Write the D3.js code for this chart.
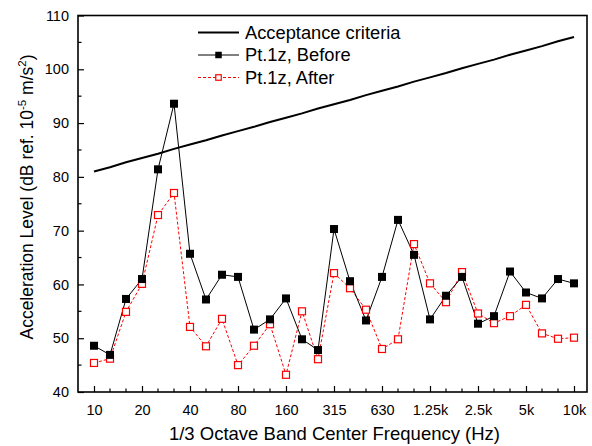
<!DOCTYPE html>
<html>
<head>
<meta charset="utf-8">
<script src="https://cdn.jsdelivr.net/npm/d3@7"></script>
<style>
  html, body { margin: 0; padding: 0; background: #fff; }
  svg { display: block; font-family: "Liberation Sans", Arial, sans-serif; }
</style>
</head>
<body>
<svg id="chart" width="592" height="446"></svg>
<script>
// 1/3 octave band centre frequencies
const bands = ["10","12.5","16","20","25","31.5","40","50","63","80","100","125","160","200","250",
  "315","400","500","630","800","1k","1.25k","1.6k","2k","2.5k","3.15k","4k","5k","6.3k","8k","10k"];
const tickBands = ["10","20","40","80","160","315","630","1.25k","2.5k","5k","10k"];

// Acceleration levels, dB ref. 1e-5 m/s^2
const criteria = [81.0,81.8,82.7,83.5,84.3,85.2,86.0,86.8,87.7,88.5,89.3,90.2,91.0,91.8,92.7,
  93.5,94.3,95.2,96.0,96.8,97.7,98.5,99.3,100.2,101.0,101.8,102.7,103.5,104.3,105.2,106.0];
const before = [48.6,46.9,57.3,61.0,81.4,93.6,65.7,57.2,61.8,61.4,51.6,53.5,57.4,49.8,47.8,
  70.3,60.6,53.3,61.4,72.0,65.5,53.5,57.9,61.4,52.7,54.1,62.4,58.5,57.4,61.0,60.2];
const after = [45.4,46.2,54.9,60.1,72.9,77.0,52.1,48.5,53.6,45.0,48.6,52.6,43.2,55.0,46.1,
  62.1,59.3,55.3,48.0,49.8,67.5,60.2,56.7,62.3,54.6,52.8,54.1,56.2,50.9,49.9,50.1];
const yTicks = [40,50,60,70,80,90,100,110];
const yMinor = [45,55,65,75,85,95,105];

const svg = d3.select("#chart");
const m = { left: 78, right: 587, top: 15.5, bottom: 392 };

const x = d3.scalePoint().domain(bands).range([94, 574]);
const y = d3.scaleLinear().domain([40, 110]).range([m.bottom, m.top]);

const g = svg.append("g");

// Axes (ticks point inward)
const xAxis = d3.axisBottom(x).tickValues(tickBands).tickSize(-6).tickPadding(13);
const gx = g.append("g").attr("transform", `translate(0,${m.bottom})`).call(xAxis);
gx.select(".domain").remove();
// minor band ticks
g.append("g").selectAll("line").data(bands.filter(b => !tickBands.includes(b))).join("line")
  .attr("x1", d => x(d)).attr("x2", d => x(d))
  .attr("y1", m.bottom).attr("y2", m.bottom - 3.5)
  .attr("stroke", "#000").attr("stroke-width", 1.2);

const yAxis = d3.axisLeft(y).tickValues(yTicks).tickSize(-6).tickPadding(9).tickFormat(d3.format("d"));
const gy = g.append("g").attr("transform", `translate(${m.left},0)`).call(yAxis);
gy.select(".domain").remove();
g.append("g").selectAll("line").data(yMinor).join("line")
  .attr("x1", m.left).attr("x2", m.left + 3.5)
  .attr("y1", d => y(d)).attr("y2", d => y(d))
  .attr("stroke", "#000").attr("stroke-width", 1.2);

[gx, gy].forEach(a => {
  a.selectAll(".tick line").attr("stroke", "#000").attr("stroke-width", 1.2);
  a.selectAll(".tick text").attr("font-size", 14.5).attr("fill", "#000")
    .attr("font-family", "'Liberation Sans', Arial, sans-serif");
});

// frame
g.append("rect").attr("x", m.left).attr("y", m.top)
  .attr("width", m.right - m.left).attr("height", m.bottom - m.top)
  .attr("fill", "none").attr("stroke", "#000").attr("stroke-width", 1.6);

const line = d3.line().x((d, i) => x(bands[i])).y(d => y(d));

// acceptance criteria
g.append("path").datum(criteria).attr("d", line)
  .attr("fill", "none").attr("stroke", "#000").attr("stroke-width", 2);

// after (red dashed, open squares)
g.append("path").datum(after).attr("d", line)
  .attr("fill", "none").attr("stroke", "#ff0000").attr("stroke-width", 1)
  .attr("stroke-dasharray", "3,2");
// before (black solid, filled squares)
g.append("path").datum(before).attr("d", line)
  .attr("fill", "none").attr("stroke", "#000").attr("stroke-width", 1);

const ms = 8;
g.append("g").selectAll("rect").data(after).join("rect")
  .attr("x", (d, i) => x(bands[i]) - ms / 2 + 0.5).attr("y", d => y(d) - ms / 2 + 0.5)
  .attr("width", ms - 1).attr("height", ms - 1)
  .attr("fill", "#fff").attr("stroke", "#ff0000").attr("stroke-width", 1.2);
g.append("g").selectAll("rect").data(before).join("rect")
  .attr("x", (d, i) => x(bands[i]) - ms / 2).attr("y", d => y(d) - ms / 2)
  .attr("width", ms).attr("height", ms).attr("fill", "#000");

// legend
const leg = g.append("g");
const legItems = [
  { label: "Acceptance criteria", stroke: "#000", w: 2, dash: null, marker: null },
  { label: "Pt.1z, Before", stroke: "#000", w: 1, dash: null, marker: "filled" },
  { label: "Pt.1z, After", stroke: "#ff0000", w: 1, dash: "3,2", marker: "open" }
];
const legY = [32.5, 55, 77.5];
const lms = 6.5;
legItems.forEach((it, i) => {
  const yy = legY[i];
  leg.append("line").attr("x1", 198).attr("x2", 239).attr("y1", yy).attr("y2", yy)
    .attr("stroke", it.stroke).attr("stroke-width", it.w).attr("stroke-dasharray", it.dash);
  if (it.marker === "filled") {
    leg.append("rect").attr("x", 218.5 - lms / 2).attr("y", yy - lms / 2)
      .attr("width", lms).attr("height", lms).attr("fill", "#000");
  } else if (it.marker === "open") {
    leg.append("rect").attr("x", 218.5 - lms / 2 + 0.5).attr("y", yy - lms / 2 + 0.5)
      .attr("width", lms - 1).attr("height", lms - 1)
      .attr("fill", "#fff").attr("stroke", "#ff0000").attr("stroke-width", 1.2);
  }
  leg.append("text").attr("x", 245).attr("y", yy).attr("dy", "0.35em")
    .attr("font-size", 18.3).text(it.label);
});

// axis titles
svg.append("text").attr("x", 334.5).attr("y", 440).attr("text-anchor", "middle")
  .attr("font-size", 18.5).text("1/3 Octave Band Center Frequency (Hz)");

const yt = svg.append("text").attr("transform", "translate(33,197) rotate(-90)")
  .attr("text-anchor", "middle").attr("font-size", 17.5);
yt.append("tspan").text("Acceleration Level (dB ref. 10");
yt.append("tspan").attr("dy", -7).attr("font-size", 11.5).text("-5");
yt.append("tspan").attr("dy", 7).text(" m/s");
yt.append("tspan").attr("dy", -7).attr("font-size", 11.5).text("2");
yt.append("tspan").attr("dy", 7).text(")");
</script>
</body>
</html>
